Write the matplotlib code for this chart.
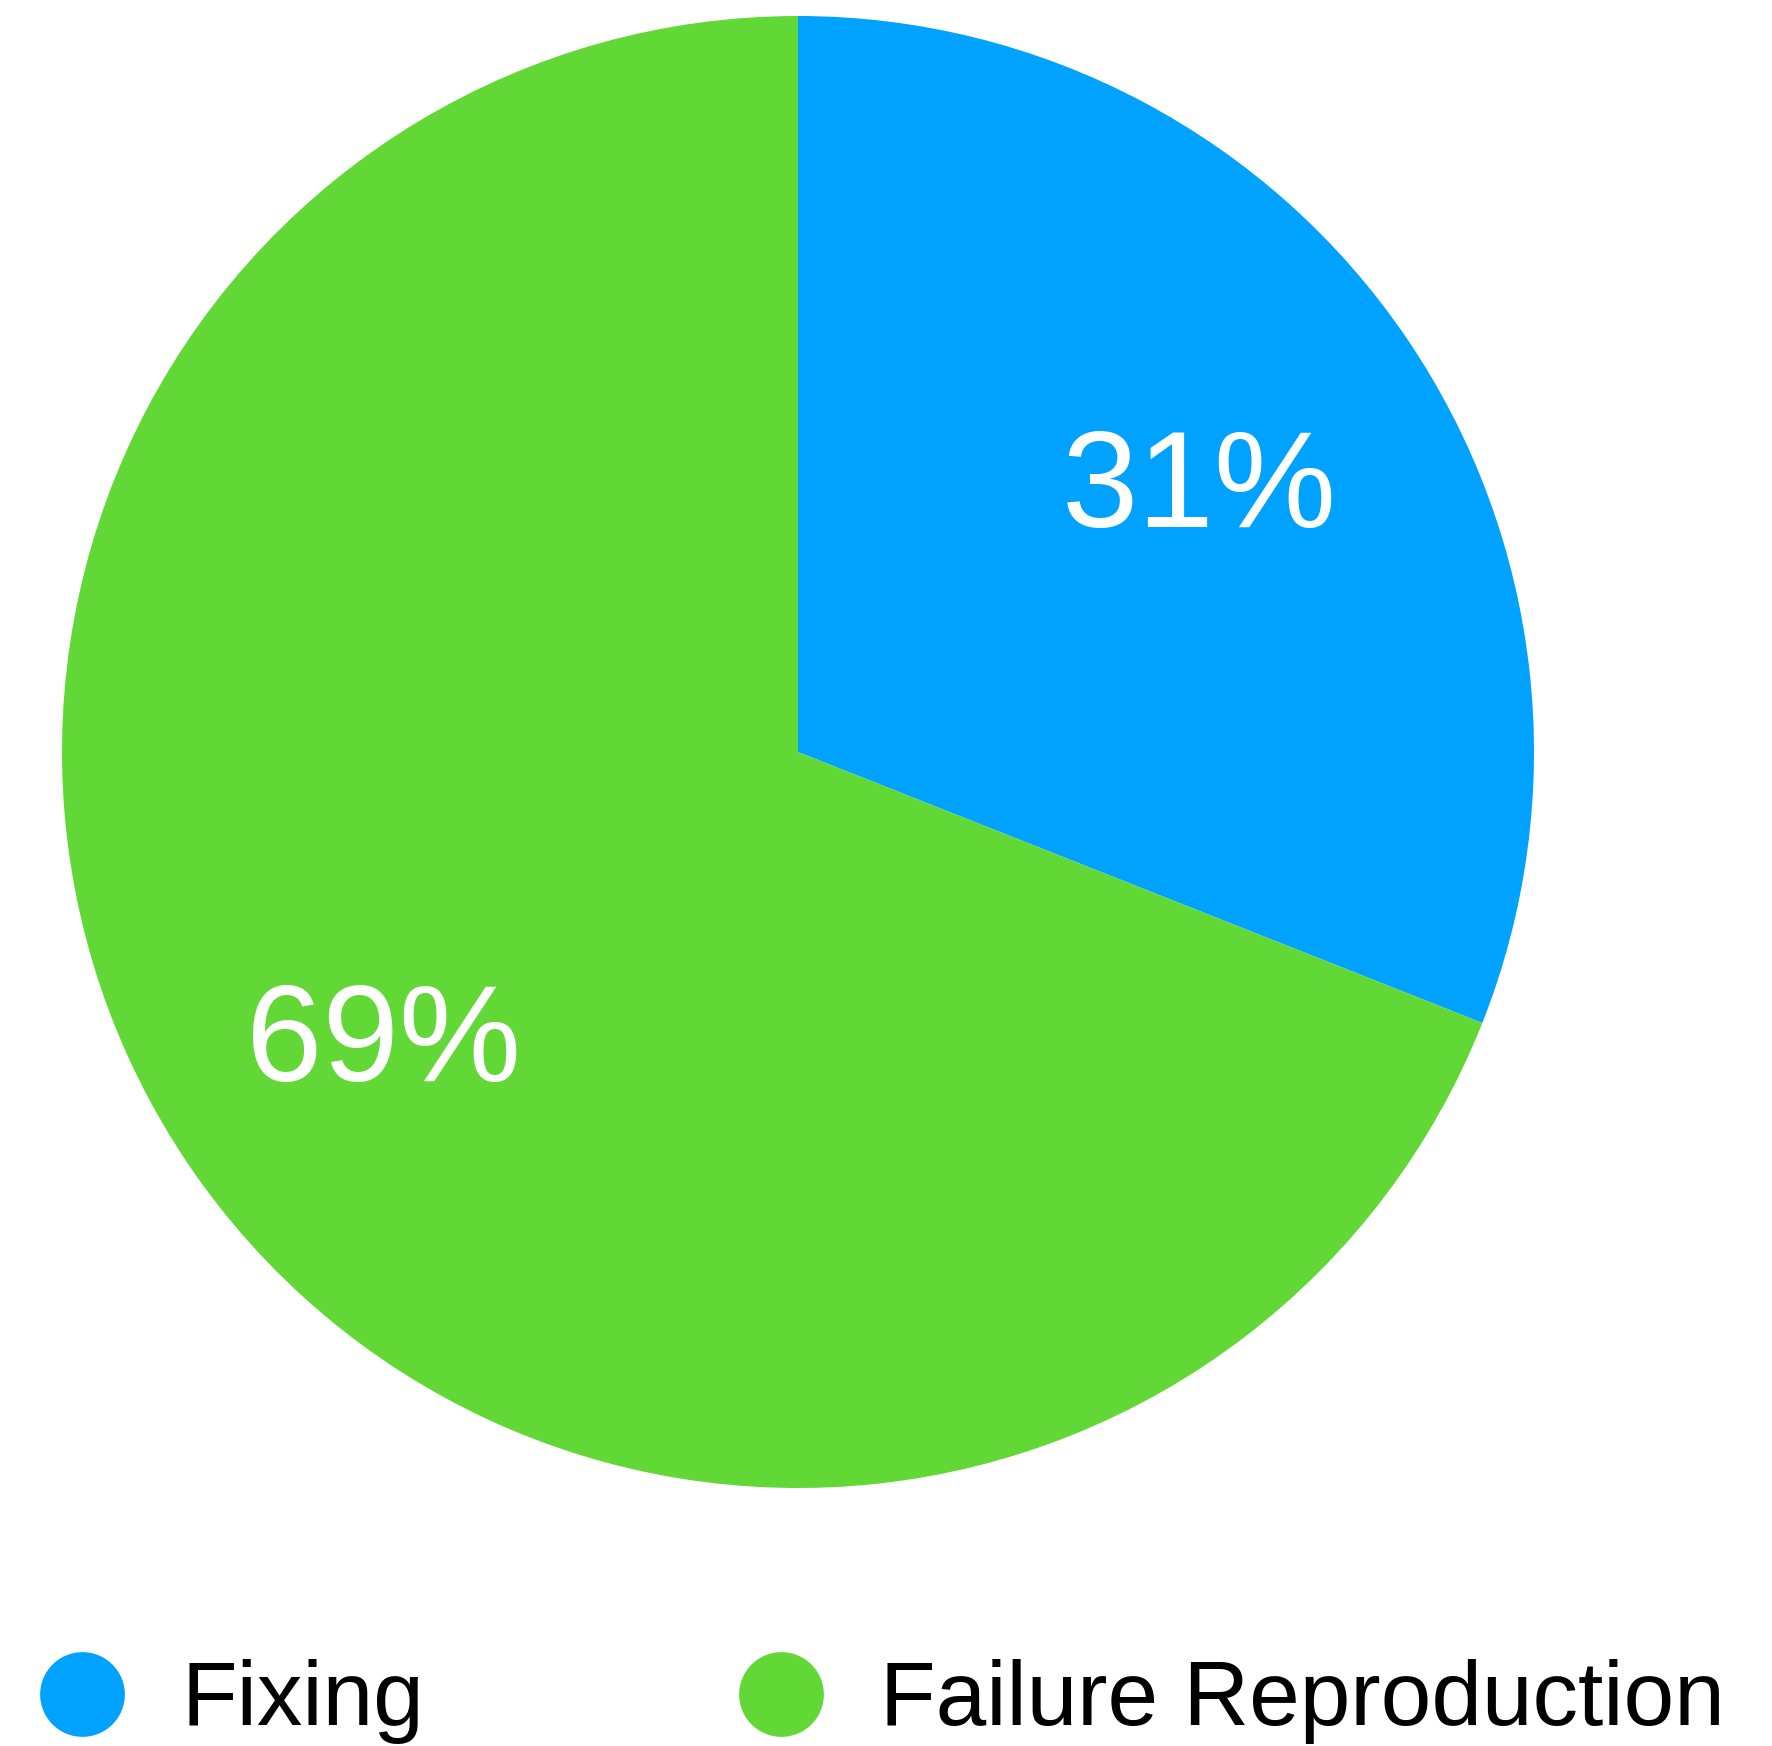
import matplotlib
matplotlib.use("Agg")
import matplotlib.pyplot as plt
from matplotlib.lines import Line2D

# Share of time per activity
categories = ["Fixing", "Failure Reproduction"]
shares = [31, 69]
colors = ["#00A2FF", "#61D836"]

plt.rcParams["font.family"] = ["Liberation Sans", "DejaVu Sans"]

W, H = 1772, 1746
fig = plt.figure(figsize=(W / 100, H / 100), dpi=100)

# Pie axes: centre (798, 752) px, radius 736 px
cx, cy, r = 798, 752, 736
ax = fig.add_axes([(cx - r) / W, (H - cy - r) / H, 2 * r / W, 2 * r / H])

wedges, texts, autotexts = ax.pie(
    shares,
    colors=colors,
    startangle=90,
    counterclock=False,
    autopct=lambda p: f"{round(p)}%",
    pctdistance=0.67,
    textprops=dict(color="white", fontsize=99),
    wedgeprops=dict(linewidth=0),
)
# nudge the percentage labels slightly
for t in autotexts:
    x, y = t.get_position()
    t.set_position((x - 0.009, y - 0.022))
ax.set_xlim(-1, 1)
ax.set_ylim(-1, 1)
ax.set_aspect("auto")
ax.axis("off")

# Legend with circular markers along the bottom
handles = [
    Line2D([], [], linestyle="none", marker="o", markersize=61,
           markerfacecolor=c, markeredgewidth=0)
    for c in colors
]
fig.legend(
    handles, categories,
    loc="center left",
    bbox_to_anchor=(37 / W, 1 - 1702 / H),
    ncol=2,
    frameon=False,
    fontsize=65.5,
    handlelength=1.0,
    handletextpad=0.59,
    columnspacing=3.42,
    borderpad=0,
    borderaxespad=0,
)

fig.savefig("out.png", dpi=100, facecolor="white")
